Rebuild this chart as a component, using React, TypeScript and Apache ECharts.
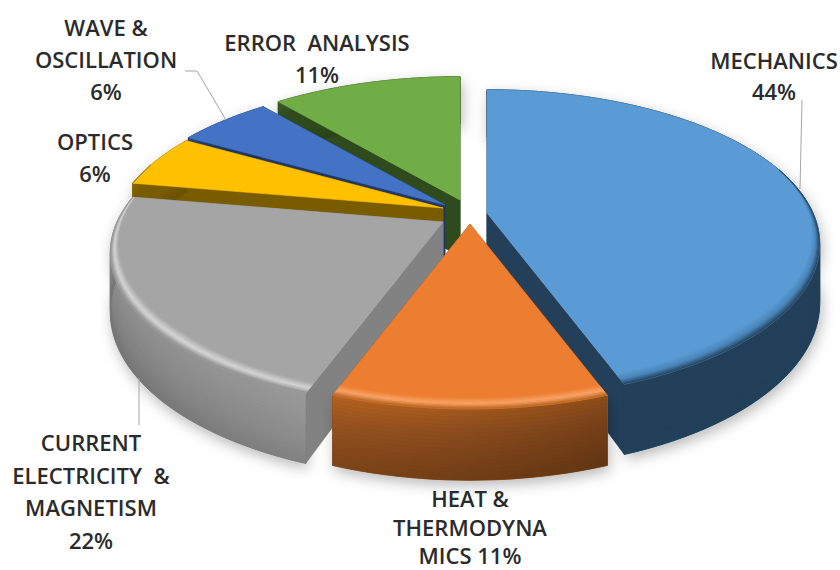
import React, { useEffect, useRef } from "react";
import * as echarts from "echarts";

// Data
const CATEGORIES = ["MECHANICS", "HEAT & THERMODYNAMICS", "CURRENT ELECTRICITY & MAGNETISM", "OPTICS", "WAVE & OSCILLATION", "ERROR ANALYSIS"];
const VALUES = [8, 2, 4, 1, 1, 2];

// Label text (as broken in the picture)
const LABEL_LINES = [
  ["MECHANICS", "44%"],
  ["HEAT &", "THERMODYNA", "MICS 11%"],
  ["CURRENT", "ELECTRICITY  &", "MAGNETISM", "22%"],
  ["OPTICS", "6%"],
  ["WAVE &", "OSCILLATION", "6%"],
  ["ERROR  ANALYSIS", "11%"],
];
const LABEL_POS = [
  [774, 60, 31],
  [470, 498, 28.5],
  [91, 442, 32.5],
  [95, 141, 32],
  [106, 27, 32],
  [317, 42, 32],
];
const LEADERS = [
  [[802, 100], [800, 189]],
  [[139, 378], [139, 425]],
  [[185, 71], [197, 71], [226, 120]],
];

// Slice styling
const TOP_COLORS = ["#5B9BD5", "#ED7D31", "#A5A5A5", "#FFC000", "#4472C4", "#70AD47"];
const FACE_COLORS = ["#233F5A", "#8A4A1C", "#828282", "#7A5C00", "#1F3864", "#2F4B1E"];
const RIM_COLORS = ["#4A84B8", "#FBA669", "#D8D8D8", "#FFD54F", "#6A8FD8", "#8CC46A"];
const WALL_STOPS = [
  ["#233F5A", "#233F5A", "#233F5A", "#21405A"],
  ["#B5621F", "#9A5420", "#8A4B1C", "#7D4418"],
  ["#8E8E8E", "#888888", "#808080", "#747474"],
  ["#8A6A00", "#7A5C00", "#7A5C00", "#6A5000"],
  ["#274680", "#1F3864", "#1F3864", "#1A3056"],
  ["#3A5C26", "#2F4B1E", "#2F4B1E", "#29421A"],
];
const WALL_SHADE = [0, 0.22, -0.1, 0, 0, 0];
const DRAW_ORDER = [5, 4, 3, 2, 0, 1];

// Pie geometry
const CENTERS = [[487, 213], [470, 224], [443, 222], [443, 208], [445, 205], [460, 200]];
const RX = 326, RY = 148, PERSP = 0.2, DEPTH = 57, BEVEL = 0.05;
const WALL_STRIPS = 18, BEVEL_STRIPS = 9;

const proj = (c: number[], deg: number, r: number, t: number) => {
  const a = (deg * Math.PI) / 180;
  const u = r * Math.sin(a);
  const v = r * Math.cos(a);
  const s = 1 / (1 + PERSP * v);
  return [c[0] + RX * u * s, c[1] - RY * v * s + DEPTH * t * s];
};

const angles = (a0: number, a1: number) => {
  const out: number[] = [];
  const n = Math.max(2, Math.ceil((a1 - a0) / 2));
  for (let i = 0; i <= n; i++) out.push(a0 + ((a1 - a0) * i) / n);
  return out;
};

const mix = (c1: string, c2: string, k: number) => {
  const p = (c: string, i: number) => parseInt(c.slice(1 + i * 2, 3 + i * 2), 16);
  const h = (n: number) => Math.round(n).toString(16).padStart(2, "0");
  return "#" + [0, 1, 2].map((i) => h(p(c1, i) + (p(c2, i) - p(c1, i)) * k)).join("");
};

const ramp = (stops: string[], k: number) => {
  const f = Math.min(stops.length - 1.0001, k * (stops.length - 1));
  const n = Math.floor(f);
  return mix(stops[n], stops[n + 1], f - n);
};

const total = VALUES.reduce((a, b) => a + b, 0);

const renderSlice = (params: any, api: any) => {
  const i = params.dataIndex;
  const before = VALUES.slice(0, i).reduce((a, b) => a + b, 0);
  const a0 = (before / total) * 360;
  const a1 = ((before + (api.value(0) as number)) / total) * 360;
  const c = CENTERS[i];
  let z = DRAW_ORDER.indexOf(i) * 100 + 1;
  const kids: any[] = [];
  const add = (points: number[][], fill: any, extra: any = {}) => {
    kids.push({
      type: "polygon",
      z2: z++,
      shape: { points },
      style: { fill, stroke: typeof fill === "string" ? fill : undefined, lineWidth: typeof fill === "string" ? 0.6 : 0, ...extra },
    });
  };
  const arc = angles(a0, a1);
  const rimR = (deg: number, k: number) => {
    const f = Math.min(1, Math.max(0, -Math.cos((deg * Math.PI) / 180) + 0.3));
    return 1 - BEVEL * k * f;
  };

  // outer wall with soft shadow
  const wall = [...arc.map((d) => proj(c, d, 1, 0)), ...arc.slice().reverse().map((d) => proj(c, d, 1, 1))];
  add(wall, FACE_COLORS[i], { shadowBlur: 14, shadowColor: "rgba(0,0,0,0.28)", shadowOffsetX: 2, shadowOffsetY: 5 });

  // cut faces
  [a0, a1].forEach((d) => {
    add([proj(c, d, 0, 0), proj(c, d, 1, 0), proj(c, d, 1, 1), proj(c, d, 0, 1)], FACE_COLORS[i]);
  });

  // wall strips
  const stops = WALL_STOPS[i];
  for (let j = 0; j < WALL_STRIPS; j++) {
    const t0 = j / WALL_STRIPS, t1 = (j + 1) / WALL_STRIPS;
    const pts = [...arc.map((d) => proj(c, d, 1, t0)), ...arc.slice().reverse().map((d) => proj(c, d, 1, t1))];
    add(pts, ramp(stops, (j + 0.5) / WALL_STRIPS));
  }
  if (WALL_SHADE[i] !== 0) {
    const sh = WALL_SHADE[i];
    const col = sh > 0 ? "0,0,0" : "255,255,255";
    add(wall, new echarts.graphic.LinearGradient(0, 0, 1, 0, [
      { offset: 0, color: `rgba(${col},0)` },
      { offset: 1, color: `rgba(${col},${Math.abs(sh)})` },
    ]));
  }

  // top surface
  add([proj(c, 0, 0, 0), ...arc.map((d) => proj(c, d, 1, 0))], TOP_COLORS[i]);

  // soft bevel along the front rim
  const lo = Math.max(a0, 72), hi = Math.min(a1, 288);
  if (hi > lo) {
    const fa = angles(lo, hi);
    for (let j = 0; j < BEVEL_STRIPS; j++) {
      const p0 = j / BEVEL_STRIPS, p1 = (j + 1) / BEVEL_STRIPS, p = (p0 + p1) / 2;
      const pts = [
        ...fa.map((d) => proj(c, d, rimR(d, 1 - p0), 0)),
        ...fa.slice().reverse().map((d) => proj(c, d, rimR(d, 1 - p1), 0)),
      ];
      const col = p < 0.55 ? mix(TOP_COLORS[i], RIM_COLORS[i], p / 0.55) : mix(RIM_COLORS[i], stops[0], (p - 0.55) / 0.45);
      add(pts, col, { stroke: col, lineWidth: 0.4 });
    }
  }
  return { type: "group", children: kids };
};

const TEXT_STYLE = { fontFamily: "'Open Sans', sans-serif", fontWeight: 600, fontSize: 22, fill: "#2B2B2B", textAlign: "center", textVerticalAlign: "middle" };

export default function App() {
  const ref = useRef<HTMLDivElement>(null);
  useEffect(() => {
    document.body.style.margin = "0";
    const chart = echarts.init(ref.current!, null, { renderer: "svg" });
    const texts: any[] = [];
    LABEL_LINES.forEach((lines, i) => {
      const [x, y, lh] = LABEL_POS[i];
      lines.forEach((line, j) => {
        texts.push({ type: "text", x, y: y + j * lh, z: 10, style: { ...TEXT_STYLE, text: line } });
      });
    });
    const leaders = LEADERS.map((points) => ({
      type: "polyline",
      z: 9,
      shape: { points },
      style: { stroke: "#A6A6A6", lineWidth: 1, fill: "none" },
    }));
    chart.setOption({
      animation: false,
      backgroundColor: "#FFFFFF",
      series: [
        {
          type: "custom",
          coordinateSystem: "none",
          name: "Topics",
          data: VALUES.map((value, i) => ({ name: CATEGORIES[i], value })),
          renderItem: renderSlice,
          silent: true,
          clip: false,
        },
      ],
      graphic: [...leaders, ...texts],
    });
    return () => chart.dispose();
  }, []);
  return <div ref={ref} style={{ position: "absolute", left: 0, top: 0, width: 840, height: 570 }} />;
}
